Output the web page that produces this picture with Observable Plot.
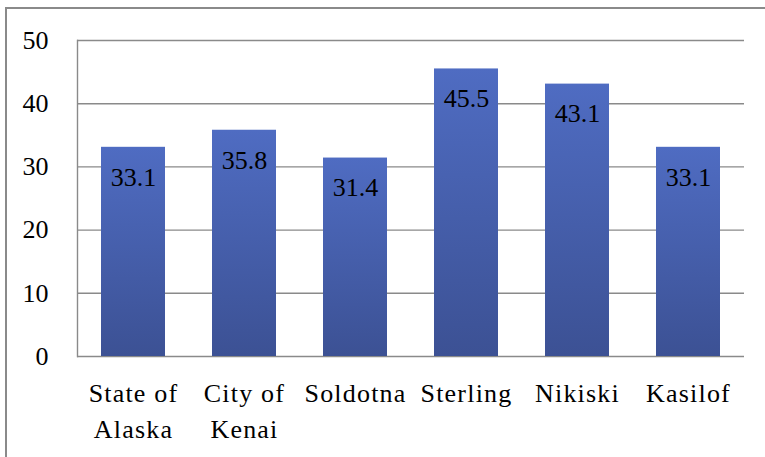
<!DOCTYPE html>
<html>
<head>
<meta charset="utf-8">
<script src="https://cdn.jsdelivr.net/npm/d3@7"></script>
<script src="https://cdn.jsdelivr.net/npm/@observablehq/plot@0.6"></script>
<style>
  html, body { margin: 0; padding: 0; background: #fff; overflow: hidden; }
  #wrap { position: relative; width: 765px; height: 457px; overflow: hidden; }
  #frame { position: absolute; left: 5px; top: 7px; width: 800px; height: 500px; border: 2px solid #8a8a8a; pointer-events: none; box-sizing: border-box; }
  #chart { position: absolute; left: 0; top: 0; }
  svg text { font-family: "Liberation Serif", "DejaVu Serif", serif !important; }
</style>
</head>
<body>
<div id="wrap"><div id="chart"></div><div id="frame"></div></div>
<script>
const categories = ["State of\nAlaska", "City of\nKenai", "Soldotna", "Sterling", "Nikiski", "Kasilof"];
const values = [33.1, 35.8, 31.4, 45.5, 43.1, 33.1];
const yTicks = [0, 10, 20, 30, 40, 50];

const data = categories.map((c, i) => ({category: c, value: values[i]}));
const font = "Liberation Serif";

const chart = Plot.plot({
  width: 765,
  height: 457,
  marginLeft: 77,
  marginRight: 21,
  marginTop: 40,
  marginBottom: 101,
  style: {fontFamily: font, fontSize: "26px", color: "#000", background: "transparent"},
  x: {domain: categories, paddingInner: 0.42, paddingOuter: 0.21, label: null},
  y: {domain: [0, 50], label: null},
  marks: [
    Plot.gridY(yTicks, {stroke: "#8a8a8a", strokeOpacity: 1, strokeWidth: 1.4}),
    Plot.frame({anchor: "left", stroke: "#8a8a8a", strokeWidth: 1.4}),
    Plot.barY(data, {x: "category", y: "value", fill: "url(#barGrad)", style: "filter: drop-shadow(2px 1px 2px rgba(0,0,0,0.25))"}),
    Plot.text(data, {x: "category", y: "value", text: d => d.value.toFixed(1), dy: 30, fill: "#000", fontSize: 26}),
    Plot.axisY(yTicks, {tickSize: 0, tickPadding: 29, fontSize: 26, label: null}),
    Plot.axisX({tickSize: 0, tickPadding: 21, fontSize: 26, lineHeight: 1.35, label: null})
  ]
});

const svg = d3.select(chart);
const defs = svg.insert("defs", ":first-child");
const grad = defs.append("linearGradient").attr("id", "barGrad").attr("x1", 0).attr("y1", 0).attr("x2", 0).attr("y2", 1);
grad.append("stop").attr("offset", "0%").attr("stop-color", "#4f6cc2");
grad.append("stop").attr("offset", "100%").attr("stop-color", "#3c5194");
svg.selectAll("[aria-label='x-axis tick label'] text").attr("letter-spacing", "1.2px");

document.getElementById("chart").appendChild(chart);
</script>
</body>
</html>
